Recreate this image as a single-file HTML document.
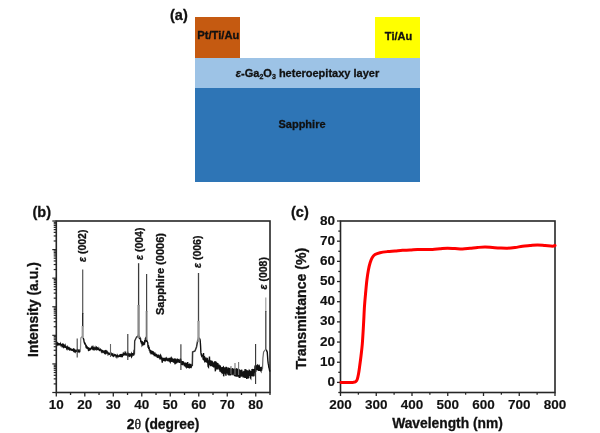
<!DOCTYPE html>
<html><head><meta charset="utf-8"><style>
html,body{margin:0;padding:0;background:#fff;}
body{width:600px;height:433px;overflow:hidden;}
svg{display:block;font-family:"Liberation Sans", sans-serif;filter:blur(0.5px);}
</style></head><body>
<svg width="600" height="433" viewBox="0 0 600 433">
<rect x="195" y="17" width="45" height="41" fill="#C55A11"/>
<rect x="375" y="17" width="45" height="41" fill="#FFFF00"/>
<rect x="195" y="58" width="225" height="30" fill="#9DC3E6"/>
<rect x="195" y="88" width="225" height="94" fill="#2E75B6"/>
<text transform="translate(170,20)" font-size="14.5" font-weight="bold" fill="#111" stroke="#111" stroke-width="0.3" text-anchor="start">(a)</text>
<text transform="translate(218.3,39.3)" font-size="11.2" font-weight="bold" fill="#111" stroke="#111" stroke-width="0.3" text-anchor="middle">Pt/Ti/Au</text>
<text transform="translate(398.5,39.5)" font-size="11" font-weight="bold" fill="#111" stroke="#111" stroke-width="0.3" text-anchor="middle">Ti/Au</text>
<text transform="translate(307.5,77)" font-size="11" font-weight="bold" fill="#111" stroke="#111" stroke-width="0.3" text-anchor="middle"><tspan font-style="italic">ε</tspan>-Ga<tspan font-size="7" dy="2">2</tspan><tspan dy="-2">O</tspan><tspan font-size="7" dy="2">3</tspan><tspan dy="-2"> heteroepitaxy layer</tspan></text>
<text transform="translate(302,128)" font-size="11" font-weight="bold" fill="#111" stroke="#111" stroke-width="0.3" text-anchor="middle">Sapphire</text>
<text transform="translate(32.5,216.5)" font-size="14.5" font-weight="bold" fill="#111" stroke="#111" stroke-width="0.3" text-anchor="start">(b)</text>
<line x1="56.30" y1="392.5" x2="56.30" y2="396.5" stroke="#262626" stroke-width="1.3"/>
<text transform="translate(56.3,409)" font-size="13.5" font-weight="bold" fill="#111" stroke="#111" stroke-width="0.15" text-anchor="middle">10</text>
<line x1="70.55" y1="392.5" x2="70.55" y2="395.0" stroke="#262626" stroke-width="1.3"/>
<line x1="84.79" y1="392.5" x2="84.79" y2="396.5" stroke="#262626" stroke-width="1.3"/>
<text transform="translate(84.79,409)" font-size="13.5" font-weight="bold" fill="#111" stroke="#111" stroke-width="0.15" text-anchor="middle">20</text>
<line x1="99.04" y1="392.5" x2="99.04" y2="395.0" stroke="#262626" stroke-width="1.3"/>
<line x1="113.29" y1="392.5" x2="113.29" y2="396.5" stroke="#262626" stroke-width="1.3"/>
<text transform="translate(113.29,409)" font-size="13.5" font-weight="bold" fill="#111" stroke="#111" stroke-width="0.15" text-anchor="middle">30</text>
<line x1="127.53" y1="392.5" x2="127.53" y2="395.0" stroke="#262626" stroke-width="1.3"/>
<line x1="141.78" y1="392.5" x2="141.78" y2="396.5" stroke="#262626" stroke-width="1.3"/>
<text transform="translate(141.78,409)" font-size="13.5" font-weight="bold" fill="#111" stroke="#111" stroke-width="0.15" text-anchor="middle">40</text>
<line x1="156.03" y1="392.5" x2="156.03" y2="395.0" stroke="#262626" stroke-width="1.3"/>
<line x1="170.27" y1="392.5" x2="170.27" y2="396.5" stroke="#262626" stroke-width="1.3"/>
<text transform="translate(170.27,409)" font-size="13.5" font-weight="bold" fill="#111" stroke="#111" stroke-width="0.15" text-anchor="middle">50</text>
<line x1="184.52" y1="392.5" x2="184.52" y2="395.0" stroke="#262626" stroke-width="1.3"/>
<line x1="198.77" y1="392.5" x2="198.77" y2="396.5" stroke="#262626" stroke-width="1.3"/>
<text transform="translate(198.77,409)" font-size="13.5" font-weight="bold" fill="#111" stroke="#111" stroke-width="0.15" text-anchor="middle">60</text>
<line x1="213.01" y1="392.5" x2="213.01" y2="395.0" stroke="#262626" stroke-width="1.3"/>
<line x1="227.26" y1="392.5" x2="227.26" y2="396.5" stroke="#262626" stroke-width="1.3"/>
<text transform="translate(227.26,409)" font-size="13.5" font-weight="bold" fill="#111" stroke="#111" stroke-width="0.15" text-anchor="middle">70</text>
<line x1="241.51" y1="392.5" x2="241.51" y2="395.0" stroke="#262626" stroke-width="1.3"/>
<line x1="255.75" y1="392.5" x2="255.75" y2="396.5" stroke="#262626" stroke-width="1.3"/>
<text transform="translate(255.75,409)" font-size="13.5" font-weight="bold" fill="#111" stroke="#111" stroke-width="0.15" text-anchor="middle">80</text>
<line x1="270.00" y1="392.5" x2="270.00" y2="395.0" stroke="#262626" stroke-width="1.3"/>
<line x1="56.3" y1="392.50" x2="52.3" y2="392.50" stroke="#262626" stroke-width="1.2"/>
<line x1="56.3" y1="383.90" x2="53.699999999999996" y2="383.90" stroke="#262626" stroke-width="1.2"/>
<line x1="56.3" y1="378.86" x2="53.699999999999996" y2="378.86" stroke="#262626" stroke-width="1.2"/>
<line x1="56.3" y1="375.29" x2="53.699999999999996" y2="375.29" stroke="#262626" stroke-width="1.2"/>
<line x1="56.3" y1="372.52" x2="53.699999999999996" y2="372.52" stroke="#262626" stroke-width="1.2"/>
<line x1="56.3" y1="370.26" x2="53.699999999999996" y2="370.26" stroke="#262626" stroke-width="1.2"/>
<line x1="56.3" y1="368.34" x2="53.699999999999996" y2="368.34" stroke="#262626" stroke-width="1.2"/>
<line x1="56.3" y1="366.69" x2="53.699999999999996" y2="366.69" stroke="#262626" stroke-width="1.2"/>
<line x1="56.3" y1="365.22" x2="53.699999999999996" y2="365.22" stroke="#262626" stroke-width="1.2"/>
<line x1="56.3" y1="363.92" x2="52.3" y2="363.92" stroke="#262626" stroke-width="1.2"/>
<line x1="56.3" y1="355.31" x2="53.699999999999996" y2="355.31" stroke="#262626" stroke-width="1.2"/>
<line x1="56.3" y1="350.28" x2="53.699999999999996" y2="350.28" stroke="#262626" stroke-width="1.2"/>
<line x1="56.3" y1="346.71" x2="53.699999999999996" y2="346.71" stroke="#262626" stroke-width="1.2"/>
<line x1="56.3" y1="343.94" x2="53.699999999999996" y2="343.94" stroke="#262626" stroke-width="1.2"/>
<line x1="56.3" y1="341.67" x2="53.699999999999996" y2="341.67" stroke="#262626" stroke-width="1.2"/>
<line x1="56.3" y1="339.76" x2="53.699999999999996" y2="339.76" stroke="#262626" stroke-width="1.2"/>
<line x1="56.3" y1="338.10" x2="53.699999999999996" y2="338.10" stroke="#262626" stroke-width="1.2"/>
<line x1="56.3" y1="336.64" x2="53.699999999999996" y2="336.64" stroke="#262626" stroke-width="1.2"/>
<line x1="56.3" y1="335.33" x2="52.3" y2="335.33" stroke="#262626" stroke-width="1.2"/>
<line x1="56.3" y1="326.73" x2="53.699999999999996" y2="326.73" stroke="#262626" stroke-width="1.2"/>
<line x1="56.3" y1="321.70" x2="53.699999999999996" y2="321.70" stroke="#262626" stroke-width="1.2"/>
<line x1="56.3" y1="318.12" x2="53.699999999999996" y2="318.12" stroke="#262626" stroke-width="1.2"/>
<line x1="56.3" y1="315.35" x2="53.699999999999996" y2="315.35" stroke="#262626" stroke-width="1.2"/>
<line x1="56.3" y1="313.09" x2="53.699999999999996" y2="313.09" stroke="#262626" stroke-width="1.2"/>
<line x1="56.3" y1="311.18" x2="53.699999999999996" y2="311.18" stroke="#262626" stroke-width="1.2"/>
<line x1="56.3" y1="309.52" x2="53.699999999999996" y2="309.52" stroke="#262626" stroke-width="1.2"/>
<line x1="56.3" y1="308.06" x2="53.699999999999996" y2="308.06" stroke="#262626" stroke-width="1.2"/>
<line x1="56.3" y1="306.75" x2="52.3" y2="306.75" stroke="#262626" stroke-width="1.2"/>
<line x1="56.3" y1="298.15" x2="53.699999999999996" y2="298.15" stroke="#262626" stroke-width="1.2"/>
<line x1="56.3" y1="293.11" x2="53.699999999999996" y2="293.11" stroke="#262626" stroke-width="1.2"/>
<line x1="56.3" y1="289.54" x2="53.699999999999996" y2="289.54" stroke="#262626" stroke-width="1.2"/>
<line x1="56.3" y1="286.77" x2="53.699999999999996" y2="286.77" stroke="#262626" stroke-width="1.2"/>
<line x1="56.3" y1="284.51" x2="53.699999999999996" y2="284.51" stroke="#262626" stroke-width="1.2"/>
<line x1="56.3" y1="282.59" x2="53.699999999999996" y2="282.59" stroke="#262626" stroke-width="1.2"/>
<line x1="56.3" y1="280.94" x2="53.699999999999996" y2="280.94" stroke="#262626" stroke-width="1.2"/>
<line x1="56.3" y1="279.47" x2="53.699999999999996" y2="279.47" stroke="#262626" stroke-width="1.2"/>
<line x1="56.3" y1="278.17" x2="52.3" y2="278.17" stroke="#262626" stroke-width="1.2"/>
<line x1="56.3" y1="269.56" x2="53.699999999999996" y2="269.56" stroke="#262626" stroke-width="1.2"/>
<line x1="56.3" y1="264.53" x2="53.699999999999996" y2="264.53" stroke="#262626" stroke-width="1.2"/>
<line x1="56.3" y1="260.96" x2="53.699999999999996" y2="260.96" stroke="#262626" stroke-width="1.2"/>
<line x1="56.3" y1="258.19" x2="53.699999999999996" y2="258.19" stroke="#262626" stroke-width="1.2"/>
<line x1="56.3" y1="255.92" x2="53.699999999999996" y2="255.92" stroke="#262626" stroke-width="1.2"/>
<line x1="56.3" y1="254.01" x2="53.699999999999996" y2="254.01" stroke="#262626" stroke-width="1.2"/>
<line x1="56.3" y1="252.35" x2="53.699999999999996" y2="252.35" stroke="#262626" stroke-width="1.2"/>
<line x1="56.3" y1="250.89" x2="53.699999999999996" y2="250.89" stroke="#262626" stroke-width="1.2"/>
<line x1="56.3" y1="249.58" x2="52.3" y2="249.58" stroke="#262626" stroke-width="1.2"/>
<line x1="56.3" y1="240.98" x2="53.699999999999996" y2="240.98" stroke="#262626" stroke-width="1.2"/>
<line x1="56.3" y1="235.95" x2="53.699999999999996" y2="235.95" stroke="#262626" stroke-width="1.2"/>
<line x1="56.3" y1="232.37" x2="53.699999999999996" y2="232.37" stroke="#262626" stroke-width="1.2"/>
<line x1="56.3" y1="229.60" x2="53.699999999999996" y2="229.60" stroke="#262626" stroke-width="1.2"/>
<line x1="56.3" y1="227.34" x2="53.699999999999996" y2="227.34" stroke="#262626" stroke-width="1.2"/>
<line x1="56.3" y1="225.43" x2="53.699999999999996" y2="225.43" stroke="#262626" stroke-width="1.2"/>
<line x1="56.3" y1="223.77" x2="53.699999999999996" y2="223.77" stroke="#262626" stroke-width="1.2"/>
<line x1="56.3" y1="222.31" x2="53.699999999999996" y2="222.31" stroke="#262626" stroke-width="1.2"/>
<line x1="56.3" y1="221" x2="52.3" y2="221" stroke="#262626" stroke-width="1.2"/>
<rect x="56.3" y="221" width="213.7" height="171.5" fill="none" stroke="#262626" stroke-width="1.6"/>
<text transform="translate(37.8,357) rotate(-90) scale(1.015,1.0)" font-size="13.8" font-weight="bold" fill="#111" stroke="#111" stroke-width="0.3" text-anchor="start">Intensity (a.u.)</text>
<text transform="translate(163,429)" font-size="13.8" font-weight="bold" fill="#111" stroke="#111" stroke-width="0.3" text-anchor="middle">2<tspan font-weight="normal" font-family='"Liberation Serif", serif'>θ</tspan> (degree)</text>
<text transform="translate(86,262) rotate(-90)" font-size="10.5" font-weight="bold" fill="#111" stroke="#111" stroke-width="0.3" text-anchor="start"><tspan font-style="italic">ε</tspan> (002)</text>
<text transform="translate(142.5,260) rotate(-90)" font-size="10.5" font-weight="bold" fill="#111" stroke="#111" stroke-width="0.3" text-anchor="start"><tspan font-style="italic">ε</tspan> (004)</text>
<text transform="translate(201,268) rotate(-90)" font-size="10.5" font-weight="bold" fill="#111" stroke="#111" stroke-width="0.3" text-anchor="start"><tspan font-style="italic">ε</tspan> (006)</text>
<text transform="translate(266.5,289.5) rotate(-90)" font-size="10.5" font-weight="bold" fill="#111" stroke="#111" stroke-width="0.3" text-anchor="start"><tspan font-style="italic">ε</tspan> (008)</text>
<text transform="translate(164,315) rotate(-90)" font-size="11" font-weight="bold" fill="#111" stroke="#111" stroke-width="0.3" text-anchor="start">Sapphire (0006)</text>
<path d="M57.00,344.39 L57.33,343.51 L57.66,344.60 L57.99,343.89 L58.32,344.49 L58.65,343.99 L58.98,344.78 L59.31,344.69 L59.64,343.90 L59.97,343.97 L60.30,345.33 L60.63,344.10 L60.96,345.21 L61.29,344.62 L61.62,344.81 L61.95,345.84 L62.28,344.90 L62.61,345.83 L62.94,345.09 L63.27,346.22 L63.60,345.46 L63.93,346.71 L64.26,345.83 L64.59,346.85 L64.92,347.08 L65.25,345.90 L65.58,347.29 L65.91,347.35 L66.24,346.91 L66.57,348.02 L66.90,346.87 L67.23,348.36 L67.56,347.38 L67.89,348.80 L68.22,348.81 L68.55,348.19 L68.88,349.27 L69.21,349.54 L69.54,348.58 L69.87,349.51 L70.20,348.99 L70.53,349.73 L70.86,349.85 L71.19,349.11 L71.52,349.35 L71.85,350.30 L72.18,350.52 L72.51,350.32 L72.84,349.52 L73.17,349.28 L73.50,350.51 L73.83,349.82 L74.16,350.89 L74.49,350.09 L74.82,350.93 L75.15,349.73 L75.48,351.10 L75.81,349.94 L76.14,351.37 L76.47,351.39 L76.80,351.17 L77.13,350.36 L77.46,351.06 L77.79,350.37 L78.12,351.27 L78.45,350.54 L78.78,351.21 L79.11,350.59 L79.44,350.30 L79.77,351.39 L80.10,350.50 M83.07,338.09 L83.40,338.78 L83.73,339.20 L84.06,341.58 L84.39,342.77 L84.72,343.65 L85.05,343.39 L85.38,344.35 L85.71,345.02 L86.04,346.69 L86.37,346.21 L86.70,347.50 L87.03,347.18 L87.36,348.96 L87.69,347.72 L88.02,348.15 L88.35,349.61 L88.68,348.91 L89.01,350.17 L89.34,350.13 L89.67,348.47 L90.00,348.64 L90.33,349.69 L90.66,349.43 L90.99,348.08 L91.32,347.82 L91.65,347.27 L91.98,348.58 L92.31,348.80 L92.64,347.66 L92.97,348.98 L93.30,348.55 L93.63,349.11 L93.96,347.64 L94.29,348.65 L94.62,347.31 L94.95,348.97 L95.28,348.95 L95.61,349.23 L95.94,347.89 L96.27,348.93 L96.60,347.94 L96.93,348.93 L97.26,349.22 L97.59,348.06 L97.92,348.32 L98.25,348.43 L98.58,350.00 L98.91,348.80 L99.24,349.99 L99.57,350.27 L99.90,349.09 L100.23,350.68 L100.56,349.47 L100.89,349.91 L101.22,351.03 L101.55,349.71 L101.88,351.52 L102.21,351.91 L102.54,350.20 L102.87,351.89 L103.20,350.57 L103.53,352.14 L103.86,352.44 L104.19,352.75 L104.52,351.01 L104.85,350.93 L105.18,352.56 L105.51,351.75 L105.84,352.79 L106.17,351.49 L106.50,352.08 L106.83,353.63 L107.16,351.79 L107.49,352.42 L107.82,352.42 L108.15,354.42 L108.48,353.93 L108.81,352.71 L109.14,354.22 L109.47,352.81 L109.80,354.77 L110.13,353.61 L110.46,355.07 L110.79,353.79 L111.12,353.32 L111.45,353.97 L111.78,355.05 L112.11,355.35 L112.44,354.04 L112.77,353.83 L113.10,355.59 L113.43,356.03 L113.76,354.72 L114.09,356.33 L114.42,354.92 L114.75,354.56 L115.08,355.11 L115.41,355.22 L115.74,354.99 L116.07,356.84 L116.40,356.70 L116.73,355.22 L117.06,356.77 L117.39,355.82 L117.72,357.14 L118.05,355.37 L118.38,357.25 L118.71,355.47 L119.04,356.79 L119.37,354.88 L119.70,356.50 L120.03,354.45 L120.36,356.81 L120.69,354.58 L121.02,354.54 L121.35,356.34 L121.68,355.91 L122.01,356.12 L122.34,354.08 L122.67,355.40 L123.00,354.25 L123.33,355.46 L123.66,354.10 L123.99,353.31 L124.32,355.29 L124.65,353.70 L124.98,355.05 L125.31,353.59 L125.64,352.86 L125.97,354.94 L126.30,354.94 L126.63,353.57 L126.96,354.97 L127.29,353.39 L127.62,354.70 L127.95,353.69 L128.28,354.94 L128.61,353.67 L128.94,355.67 L129.27,353.43 L129.60,356.00 L129.93,355.78 L130.26,353.49 L130.59,356.32 L130.92,354.60 L131.25,353.85 L131.58,356.65 L131.91,356.15 L132.24,354.33 L132.57,353.85 L132.90,353.90 L133.23,353.63 L133.56,355.51 L133.89,353.86 L134.22,349.85 M138.18,337.34 L138.51,334.59 L138.84,337.74 L139.17,336.23 L139.50,339.04 L139.83,336.92 L140.16,339.44 L140.49,338.25 L140.82,342.13 L141.15,340.61 L141.48,343.60 L141.81,341.27 L142.14,345.22 L142.47,344.61 L142.80,342.32 L143.13,342.68 L143.46,344.67 L143.79,344.59 L144.12,342.80 L144.45,344.58 L144.78,340.04 L145.11,342.35 L145.44,338.58 L145.77,338.04 L146.10,340.55 L146.43,339.24 L146.76,341.89 L147.09,340.56 L147.42,341.95 L147.75,342.64 L148.08,347.78 L148.41,345.02 L148.74,348.95 L149.07,346.75 L149.40,350.81 L149.73,349.47 L150.06,351.63 L150.39,353.00 L150.72,349.98 L151.05,353.58 L151.38,353.44 L151.71,353.61 L152.04,350.77 L152.37,354.29 L152.70,351.06 L153.03,354.45 L153.36,351.53 L153.69,354.95 L154.02,353.11 L154.35,356.16 L154.68,352.44 L155.01,353.63 L155.34,355.89 L155.67,353.78 L156.00,356.77 L156.33,353.74 L156.66,356.17 L156.99,354.60 L157.32,357.59 L157.65,354.75 L157.98,358.05 L158.31,357.08 L158.64,354.65 L158.97,357.72 L159.30,355.40 L159.63,356.53 L159.96,359.44 L160.29,356.32 L160.62,355.34 L160.95,356.23 L161.28,359.32 L161.61,356.73 L161.94,360.09 L162.27,362.68 L162.60,359.94 L162.93,357.77 L163.26,359.79 L163.59,358.23 L163.92,360.88 L164.25,357.89 L164.58,361.15 L164.91,358.12 L165.24,361.53 L165.57,358.48 L165.90,358.13 L166.23,360.57 L166.56,357.56 L166.89,360.56 L167.22,358.85 L167.55,361.16 L167.88,358.33 L168.21,360.78 L168.54,358.77 L168.87,361.38 L169.20,357.87 L169.53,358.99 L169.86,361.42 L170.19,361.96 L170.52,358.79 L170.85,358.23 L171.18,361.62 L171.51,358.65 L171.84,361.98 L172.17,358.73 L172.50,359.18 L172.83,361.70 L173.16,359.48 L173.49,362.64 L173.82,358.71 L174.15,359.56 L174.48,358.59 L174.81,362.61 L175.14,364.33 L175.47,358.61 L175.80,362.01 L176.13,359.77 L176.46,363.56 L176.79,359.40 L177.12,362.81 L177.45,358.68 L177.78,360.11 L178.11,362.47 L178.44,359.29 L178.77,360.13 L179.10,362.77 L179.43,360.36 L179.76,362.83 L180.09,360.51 L180.42,358.64 L180.75,359.76 L181.08,361.12 L181.41,363.42 L181.74,364.81 L182.07,361.05 L182.40,365.24 L182.73,361.16 L183.06,364.34 L183.39,361.58 L183.72,364.53 L184.05,362.65 L184.38,366.21 L184.71,363.18 L185.04,366.36 L185.37,362.59 L185.70,366.21 L186.03,366.83 L186.36,362.79 L186.69,363.99 L187.02,366.21 L187.35,367.67 L187.68,362.04 L188.01,368.02 L188.34,364.18 L188.67,367.18 L189.00,364.81 L189.33,368.53 L189.66,363.60 L189.99,365.20 L190.32,364.17 L190.65,367.27 L190.98,367.46 L191.31,366.92 L191.64,365.64 L191.97,366.33 M197.91,340.77 L198.24,339.74 L198.57,337.70 L198.90,338.57 L199.23,338.49 L199.56,338.98 L199.89,339.11 L200.22,340.79 L200.55,345.63 L200.88,352.39 L201.21,354.66 L201.54,355.78 L201.87,354.88 L202.20,355.49 L202.53,355.85 L202.86,356.46 L203.19,359.66 L203.52,352.94 L203.85,360.47 L204.18,357.42 L204.51,357.14 L204.84,362.42 L205.17,357.94 L205.50,358.39 L205.83,358.86 L206.16,361.94 L206.49,359.48 L206.82,362.64 L207.15,358.47 L207.48,358.77 L207.81,363.14 L208.14,366.57 L208.47,366.99 L208.80,360.18 L209.13,364.15 L209.46,356.55 L209.79,364.88 L210.12,360.58 L210.45,366.30 L210.78,360.32 L211.11,365.85 L211.44,362.08 L211.77,364.92 L212.10,360.70 L212.43,366.59 L212.76,361.77 L213.09,366.36 L213.42,363.02 L213.75,367.36 L214.08,362.54 L214.41,366.19 L214.74,361.33 L215.07,366.60 L215.40,371.34 L215.73,362.06 L216.06,362.24 L216.39,363.46 L216.72,369.54 L217.05,362.90 L217.38,369.45 L217.71,363.31 L218.04,364.47 L218.37,368.71 L218.70,365.66 L219.03,365.48 L219.36,369.85 L219.69,365.33 L220.02,371.68 L220.35,365.57 L220.68,370.22 L221.01,370.72 L221.34,372.05 L221.67,372.29 L222.00,367.14 L222.33,373.05 L222.66,372.74 L222.99,367.59 L223.32,367.25 L223.65,376.33 L223.98,373.26 L224.31,367.53 L224.64,371.46 L224.97,367.20 L225.30,373.58 L225.63,372.50 L225.96,375.76 L226.29,367.47 L226.62,367.55 L226.95,372.87 L227.28,372.85 L227.61,368.91 L227.94,374.73 L228.27,367.58 L228.60,373.81 L228.93,375.38 L229.26,368.91 L229.59,368.65 L229.92,368.49 L230.25,375.41 L230.58,369.03 L230.91,375.28 L231.24,368.82 L231.57,369.82 L231.90,374.21 L232.23,368.22 L232.56,369.93 L232.89,375.27 L233.22,369.96 L233.55,370.28 L233.88,369.50 L234.21,368.51 L234.54,375.95 L234.87,369.68 L235.20,376.55 L235.53,369.07 L235.86,376.12 L236.19,368.37 L236.52,376.70 L236.85,369.06 L237.18,369.19 L237.51,369.43 L237.84,376.60 L238.17,369.13 L238.50,375.59 L238.83,369.74 L239.16,377.79 L239.49,369.40 L239.82,378.07 L240.15,371.38 L240.48,370.30 L240.81,376.83 L241.14,369.97 L241.47,370.68 L241.80,369.86 L242.13,375.62 L242.46,375.44 L242.79,371.95 L243.12,377.44 L243.45,371.34 L243.78,376.95 L244.11,370.86 L244.44,377.75 L244.77,376.83 L245.10,369.15 L245.43,377.94 L245.76,376.35 L246.09,369.59 L246.42,376.30 L246.75,378.91 L247.08,377.53 L247.41,370.29 L247.74,376.02 L248.07,371.98 L248.40,378.49 L248.73,370.48 L249.06,375.84 L249.39,370.52 L249.72,370.92 L250.05,371.07 L250.38,377.65 L250.71,378.19 L251.04,371.02 L251.37,375.40 L251.70,375.40 L252.03,369.00 L252.36,376.29 L252.69,375.43 L253.02,368.91 L253.35,376.58 L253.68,369.49 L254.01,376.26 L254.34,368.93 L254.67,372.74 L255.00,366.27 L255.33,365.38 L255.66,371.84 L255.99,370.04 L256.32,365.28 L256.65,369.90 L256.98,365.70 L257.31,365.22 L257.64,366.06 L257.97,370.39 L258.30,366.24 L258.63,371.01 L258.96,364.73 L259.29,366.40 L259.62,370.99 L259.95,366.95 L260.28,370.17 L260.61,370.10 L260.94,370.78 L261.27,366.88 L261.60,370.78 L261.93,367.79 L262.26,367.46 M266.22,349.41 L266.55,350.31 L266.88,351.41 L267.21,351.83 L267.54,355.98 L267.87,360.73 L268.20,363.45 L268.53,364.93 L268.86,367.48 L269.19,368.36 L269.52,370.26 L269.85,371.68" fill="none" stroke="#111" stroke-width="1.4" stroke-linejoin="miter"/>
<path d="M80.4,351 L80.8,338 L82.2,336.5 L83.0,337.5" fill="none" stroke="#888" stroke-width="1.2"/>
<path d="M134.4,354.5 L134.7,341 L135.6,339 L136.6,337 L138.0,336.2" fill="none" stroke="#333" stroke-width="1.4"/>
<path d="M192.3,366 L192.6,352 L195,351 L196.5,347 L197.8,340" fill="none" stroke="#333" stroke-width="1.5"/>
<path d="M262.5,369 L262.9,358 L263.6,352 L265.9,349" fill="none" stroke="#666" stroke-width="1.2"/>
<line x1="82.7" y1="269.4" x2="82.7" y2="314" stroke="#555" stroke-width="1.2"/>
<line x1="82.7" y1="313" x2="82.7" y2="327" stroke="#2a2a2a" stroke-width="1.4"/>
<line x1="82.7" y1="326" x2="82.7" y2="338" stroke="#999" stroke-width="2.2"/>
<line x1="138.6" y1="263.2" x2="138.6" y2="306" stroke="#3a3a3a" stroke-width="1.3"/>
<line x1="138.6" y1="305" x2="138.6" y2="338" stroke="#8a8a8a" stroke-width="2.4"/>
<line x1="146.6" y1="274" x2="146.6" y2="312" stroke="#444" stroke-width="1.2"/>
<line x1="146.6" y1="311" x2="146.6" y2="340" stroke="#777" stroke-width="1.8"/>
<line x1="198.5" y1="273" x2="198.5" y2="322" stroke="#444" stroke-width="1.3"/>
<line x1="198.5" y1="321" x2="198.5" y2="342" stroke="#999" stroke-width="2.4"/>
<line x1="265.8" y1="297.5" x2="265.8" y2="312" stroke="#999" stroke-width="1.1"/>
<line x1="265.8" y1="311" x2="265.8" y2="349" stroke="#444" stroke-width="1.3"/>
<line x1="77.2" y1="338.5" x2="77.2" y2="357.5" stroke="#444" stroke-width="1.1"/>
<line x1="110.5" y1="344" x2="110.5" y2="357" stroke="#666" stroke-width="1.1"/>
<line x1="127.8" y1="334" x2="127.8" y2="360" stroke="#333" stroke-width="1.1"/>
<line x1="180.9" y1="344.2" x2="180.9" y2="370" stroke="#333" stroke-width="1.1"/>
<line x1="255.6" y1="344" x2="255.6" y2="384" stroke="#333" stroke-width="1.1"/>
<line x1="231" y1="366" x2="231" y2="374" stroke="#777" stroke-width="1.1"/>
<line x1="235" y1="363" x2="235" y2="375" stroke="#777" stroke-width="1.1"/>
<line x1="238.6" y1="362" x2="238.6" y2="375" stroke="#777" stroke-width="1.1"/>
<text transform="translate(291,216.5)" font-size="14.5" font-weight="bold" fill="#111" stroke="#111" stroke-width="0.3" text-anchor="start">(c)</text>
<line x1="340.50" y1="392.5" x2="340.50" y2="396.0" stroke="#262626" stroke-width="1.3"/>
<text transform="translate(340.5,409)" font-size="13.5" font-weight="bold" fill="#111" stroke="#111" stroke-width="0.15" text-anchor="middle">200</text>
<line x1="358.38" y1="392.5" x2="358.38" y2="394.7" stroke="#262626" stroke-width="1.3"/>
<line x1="376.25" y1="392.5" x2="376.25" y2="396.0" stroke="#262626" stroke-width="1.3"/>
<text transform="translate(376.25,409)" font-size="13.5" font-weight="bold" fill="#111" stroke="#111" stroke-width="0.15" text-anchor="middle">300</text>
<line x1="394.12" y1="392.5" x2="394.12" y2="394.7" stroke="#262626" stroke-width="1.3"/>
<line x1="412.00" y1="392.5" x2="412.00" y2="396.0" stroke="#262626" stroke-width="1.3"/>
<text transform="translate(412.0,409)" font-size="13.5" font-weight="bold" fill="#111" stroke="#111" stroke-width="0.15" text-anchor="middle">400</text>
<line x1="429.88" y1="392.5" x2="429.88" y2="394.7" stroke="#262626" stroke-width="1.3"/>
<line x1="447.75" y1="392.5" x2="447.75" y2="396.0" stroke="#262626" stroke-width="1.3"/>
<text transform="translate(447.75,409)" font-size="13.5" font-weight="bold" fill="#111" stroke="#111" stroke-width="0.15" text-anchor="middle">500</text>
<line x1="465.62" y1="392.5" x2="465.62" y2="394.7" stroke="#262626" stroke-width="1.3"/>
<line x1="483.50" y1="392.5" x2="483.50" y2="396.0" stroke="#262626" stroke-width="1.3"/>
<text transform="translate(483.5,409)" font-size="13.5" font-weight="bold" fill="#111" stroke="#111" stroke-width="0.15" text-anchor="middle">600</text>
<line x1="501.38" y1="392.5" x2="501.38" y2="394.7" stroke="#262626" stroke-width="1.3"/>
<line x1="519.25" y1="392.5" x2="519.25" y2="396.0" stroke="#262626" stroke-width="1.3"/>
<text transform="translate(519.25,409)" font-size="13.5" font-weight="bold" fill="#111" stroke="#111" stroke-width="0.15" text-anchor="middle">700</text>
<line x1="537.12" y1="392.5" x2="537.12" y2="394.7" stroke="#262626" stroke-width="1.3"/>
<line x1="555.00" y1="392.5" x2="555.00" y2="396.0" stroke="#262626" stroke-width="1.3"/>
<text transform="translate(555.0,409)" font-size="13.5" font-weight="bold" fill="#111" stroke="#111" stroke-width="0.15" text-anchor="middle">800</text>
<line x1="340.5" y1="392.50" x2="338.3" y2="392.50" stroke="#262626" stroke-width="1.3"/>
<line x1="340.5" y1="382.41" x2="337.0" y2="382.41" stroke="#262626" stroke-width="1.3"/>
<text transform="translate(335,386.01)" font-size="13.5" font-weight="bold" fill="#111" stroke="#111" stroke-width="0.15" text-anchor="end">0</text>
<line x1="340.5" y1="372.32" x2="338.3" y2="372.32" stroke="#262626" stroke-width="1.3"/>
<line x1="340.5" y1="362.24" x2="337.0" y2="362.24" stroke="#262626" stroke-width="1.3"/>
<text transform="translate(335,365.84)" font-size="13.5" font-weight="bold" fill="#111" stroke="#111" stroke-width="0.15" text-anchor="end">10</text>
<line x1="340.5" y1="352.15" x2="338.3" y2="352.15" stroke="#262626" stroke-width="1.3"/>
<line x1="340.5" y1="342.06" x2="337.0" y2="342.06" stroke="#262626" stroke-width="1.3"/>
<text transform="translate(335,345.66)" font-size="13.5" font-weight="bold" fill="#111" stroke="#111" stroke-width="0.15" text-anchor="end">20</text>
<line x1="340.5" y1="331.97" x2="338.3" y2="331.97" stroke="#262626" stroke-width="1.3"/>
<line x1="340.5" y1="321.88" x2="337.0" y2="321.88" stroke="#262626" stroke-width="1.3"/>
<text transform="translate(335,325.48)" font-size="13.5" font-weight="bold" fill="#111" stroke="#111" stroke-width="0.15" text-anchor="end">30</text>
<line x1="340.5" y1="311.79" x2="338.3" y2="311.79" stroke="#262626" stroke-width="1.3"/>
<line x1="340.5" y1="301.71" x2="337.0" y2="301.71" stroke="#262626" stroke-width="1.3"/>
<text transform="translate(335,305.31)" font-size="13.5" font-weight="bold" fill="#111" stroke="#111" stroke-width="0.15" text-anchor="end">40</text>
<line x1="340.5" y1="291.62" x2="338.3" y2="291.62" stroke="#262626" stroke-width="1.3"/>
<line x1="340.5" y1="281.53" x2="337.0" y2="281.53" stroke="#262626" stroke-width="1.3"/>
<text transform="translate(335,285.13)" font-size="13.5" font-weight="bold" fill="#111" stroke="#111" stroke-width="0.15" text-anchor="end">50</text>
<line x1="340.5" y1="271.44" x2="338.3" y2="271.44" stroke="#262626" stroke-width="1.3"/>
<line x1="340.5" y1="261.35" x2="337.0" y2="261.35" stroke="#262626" stroke-width="1.3"/>
<text transform="translate(335,264.95)" font-size="13.5" font-weight="bold" fill="#111" stroke="#111" stroke-width="0.15" text-anchor="end">60</text>
<line x1="340.5" y1="251.26" x2="338.3" y2="251.26" stroke="#262626" stroke-width="1.3"/>
<line x1="340.5" y1="241.18" x2="337.0" y2="241.18" stroke="#262626" stroke-width="1.3"/>
<text transform="translate(335,244.78)" font-size="13.5" font-weight="bold" fill="#111" stroke="#111" stroke-width="0.15" text-anchor="end">70</text>
<line x1="340.5" y1="231.09" x2="338.3" y2="231.09" stroke="#262626" stroke-width="1.3"/>
<line x1="340.5" y1="221.00" x2="337.0" y2="221.00" stroke="#262626" stroke-width="1.3"/>
<text transform="translate(335,224.6)" font-size="13.5" font-weight="bold" fill="#111" stroke="#111" stroke-width="0.15" text-anchor="end">80</text>
<rect x="340.5" y="221" width="214.5" height="171.5" fill="none" stroke="#262626" stroke-width="1.6"/>
<text transform="translate(306,369.5) rotate(-90) scale(1.025,1.0)" font-size="13.8" font-weight="bold" fill="#111" stroke="#111" stroke-width="0.3" text-anchor="start">Transmittance (%)</text>
<text transform="translate(447.5,427.5)" font-size="13.8" font-weight="bold" fill="#111" stroke="#111" stroke-width="0.3" text-anchor="middle">Wavelength (nm)</text>
<path d="M341,382.5 C342.17,382.50 346.00,382.52 348,382.5 C350.00,382.48 351.75,382.52 353,382.4 C354.25,382.28 354.80,382.28 355.5,381.8 C356.20,381.32 356.70,380.80 357.2,379.5 C357.70,378.20 358.08,376.25 358.5,374 C358.92,371.75 359.28,369.00 359.7,366 C360.12,363.00 360.57,359.67 361,356 C361.43,352.33 361.88,349.17 362.3,344 C362.72,338.83 363.13,331.33 363.5,325 C363.87,318.67 364.13,311.50 364.5,306 C364.87,300.50 365.30,296.33 365.7,292 C366.10,287.67 366.45,283.67 366.9,280 C367.35,276.33 367.85,272.92 368.4,270 C368.95,267.08 369.55,264.58 370.2,262.5 C370.85,260.42 371.50,258.82 372.3,257.5 C373.10,256.18 373.72,255.40 375,254.6 C376.28,253.80 377.92,253.20 380,252.7 C382.08,252.20 385.00,251.88 387.5,251.6 C390.00,251.32 392.50,251.22 395,251 C397.50,250.78 400.00,250.47 402.5,250.3 C405.00,250.13 407.50,250.15 410,250 C412.50,249.85 415.00,249.48 417.5,249.4 C420.00,249.32 422.50,249.48 425,249.5 C427.50,249.52 430.00,249.62 432.5,249.5 C435.00,249.38 437.50,249.02 440,248.8 C442.50,248.58 445.00,248.23 447.5,248.2 C450.00,248.17 452.50,248.47 455,248.6 C457.50,248.73 460.00,249.05 462.5,249 C465.00,248.95 467.50,248.55 470,248.3 C472.50,248.05 475.00,247.72 477.5,247.5 C480.00,247.28 482.50,247.00 485,247 C487.50,247.00 490.00,247.33 492.5,247.5 C495.00,247.67 497.50,247.88 500,248 C502.50,248.12 505.00,248.28 507.5,248.2 C510.00,248.12 512.50,247.83 515,247.5 C517.50,247.17 520.00,246.53 522.5,246.2 C525.00,245.87 527.50,245.72 530,245.5 C532.50,245.28 535.00,244.90 537.5,244.9 C540.00,244.90 542.50,245.28 545,245.5 C547.50,245.72 550.83,246.20 552.5,246.2 C554.17,246.20 554.58,245.62 555,245.5" fill="none" stroke="#FF0000" stroke-width="3" stroke-linejoin="round" stroke-linecap="round"/>
</svg>
</body></html>
